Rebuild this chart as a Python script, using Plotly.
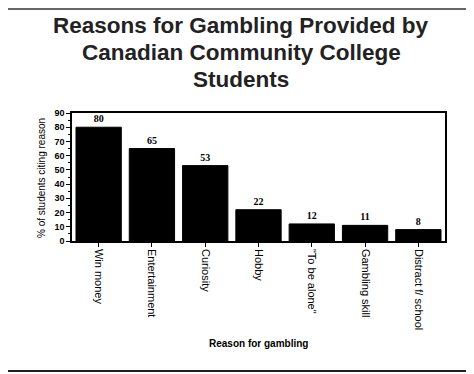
import plotly.graph_objects as go

categories = ["Win money", "Entertainment", "Curiosity", "Hobby", "\"To be alone\"", "Gambling skill", "Distract f/ school"]
values = [80, 65, 53, 22, 12, 11, 8]
y_ticks = [0, 10, 20, 30, 40, 50, 60, 70, 80, 90]
title_lines = ["Reasons for Gambling Provided by", "Canadian Community College", "Students"]

OFF = 8  # page body margin
W, H = 474, 374
# plot frame in screen pixels
SX0, SX1, SY0, SY1 = 72, 445, 113, 241
L, T = SX0 - OFF, SY0 - OFF
R, B = W - (SX1 - OFF), H - (SY1 - OFF)
pw, ph = SX1 - SX0, SY1 - SY0


def px(x):
    return (x - SX0) / pw


def py(y):
    return (SY1 - y) / ph


fig = go.Figure(go.Bar(
    x=categories, y=values,
    marker=dict(color="black", line=dict(color="black", width=1)),
    width=0.85,
    text=["<b>%d</b>" % v for v in values], textposition="outside",
    textfont=dict(family="Liberation Serif", size=10, color="black"),
    cliponaxis=False,
))

annotations = []
for t, yc in zip(title_lines, [25, 52, 79]):
    annotations.append(dict(
        text="<b>%s</b>" % t, xref="paper", yref="paper", x=px(241), y=py(yc),
        xanchor="center", yanchor="middle", showarrow=False,
        font=dict(family="Liberation Sans", size=22.5, color="#222"),
    ))
annotations.append(dict(
    text="<b>Reason for gambling</b>", xref="paper", yref="paper", x=px(258), y=py(343),
    xanchor="center", yanchor="middle", showarrow=False,
    font=dict(family="Liberation Sans", size=10, color="black"),
))
annotations.append(dict(
    text="% of students citing reason", xref="paper", yref="paper", x=px(41), y=py(178),
    xanchor="center", yanchor="middle", showarrow=False, textangle=-90,
    font=dict(family="Liberation Sans", size=10, color="black"),
))

fig.update_layout(
    width=W, height=H,
    margin=dict(l=L, r=R, t=T, b=B),
    paper_bgcolor="white", plot_bgcolor="white",
    showlegend=False,
    bargap=0.15,
    annotations=annotations,
    shapes=[
        dict(type="line", xref="paper", yref="paper", x0=px(8), x1=px(474), y0=py(9), y1=py(9),
             line=dict(color="#666", width=2)),
        dict(type="line", xref="paper", yref="paper", x0=px(8), x1=px(474), y0=py(371), y1=py(371),
             line=dict(color="#222", width=2)),
    ],
)

fig.update_xaxes(
    tickangle=90, automargin=False,
    tickfont=dict(family="Liberation Sans", size=11, color="black"),
    showline=True, linecolor="black", linewidth=1.5, mirror=True,
    ticks="outside", ticklen=4, tickcolor="black",
)
fig.update_yaxes(
    range=[0, 90], tickvals=y_ticks, ticktext=["<b>%d</b>" % v for v in y_ticks], automargin=False,
    tickfont=dict(family="Liberation Sans", size=9, color="black"),
    showline=True, linecolor="black", linewidth=1.5, mirror=True,
    ticks="outside", ticklen=4, tickcolor="black",
    minor=dict(dtick=5, ticks="outside", ticklen=2, tickcolor="black"),
    showgrid=False, zeroline=False,
)

fig.write_html("out.html")
